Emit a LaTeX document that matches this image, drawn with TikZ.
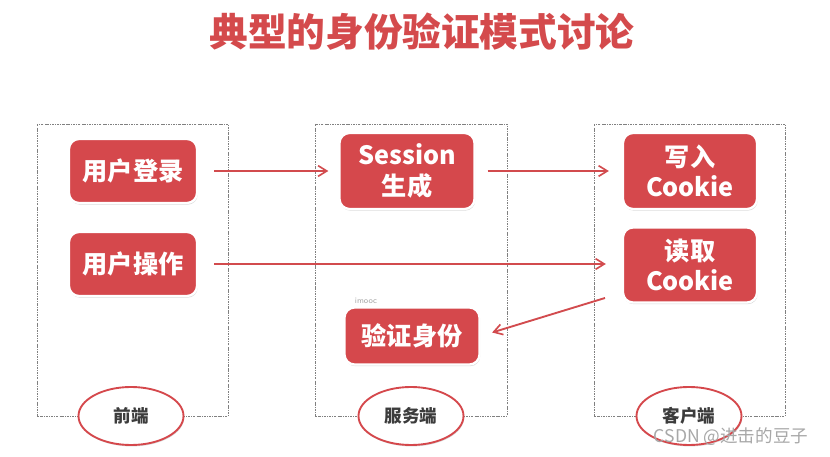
\documentclass[tikz,border=0pt]{standalone}
\usepackage{fontspec}
\usepackage{xcolor}
\usetikzlibrary{arrows.meta,shapes.geometric,shadows}
\newfontfamily\cjk{Noto Sans CJK SC}
\definecolor{Brick}{HTML}{D5484C}
\definecolor{TitleRed}{HTML}{D44A4C}
\definecolor{Wire}{HTML}{D24B4E}
\definecolor{Frame}{HTML}{808080}
\definecolor{Label}{HTML}{3C3C3C}
\definecolor{Mark}{HTML}{A8A8A8}

\begin{document}
\begin{tikzpicture}[x=0.03cm,y=-0.03cm,
  redbox/.style={rectangle, rounded corners=0.3cm, fill=Brick, draw=white, line width=2pt, inner sep=0pt,
    text=white, font=\cjk\bfseries\fontsize{21.5}{26}\selectfont, align=center,
    drop shadow={opacity=0.3, shadow xshift=0.6pt, shadow yshift=-1.4pt}},
  side/.style={ellipse, fill=white, draw=Brick, line width=1.6pt, minimum width=3.15cm, minimum height=1.74cm,
    inner sep=0pt, text=Label, font=\cjk\bfseries\fontsize{15}{17}\selectfont,
    drop shadow={opacity=0.3, shadow xshift=0.6pt, shadow yshift=-1.2pt}},
  lane/.style={draw=Frame, line width=0.5pt, dash pattern=on 2pt off 1pt on 0.5pt off 1pt},
  link/.style={Wire, line width=1.6pt, -{Straight Barb[length=2.6mm,width=3.2mm,line width=1.4pt]}}]
\fill[white] (0,0) rectangle (830,457);
\node[text=TitleRed, font=\cjk\bfseries\fontsize{33}{38}\selectfont] (title) at (422,32){典型的身份验证模式讨论};
% three lanes
\draw[lane] (37,124) rectangle (228,416);
\draw[lane] (315,124) rectangle (507,416);
\draw[lane] (594,124) rectangle (785,416);
% boxes
\node[redbox, minimum width=3.84cm, minimum height=1.92cm] (login) at (133,171){用户登录};
\node[redbox, minimum width=3.84cm, minimum height=1.92cm] (act) at (133,264){用户操作};
\node[redbox, minimum width=4.05cm, minimum height=2.28cm] (sess) at (407,171){Session\\生成};
\node[redbox, minimum width=4.05cm, minimum height=1.71cm] (verify) at (412,336){验证身份};
\node[redbox, minimum width=4.02cm, minimum height=2.28cm] (write) at (690,171){写入\\Cookie};
\node[redbox, minimum width=4.02cm, minimum height=2.25cm] (read) at (690,265){读取\\Cookie};
\node[text=Mark, font=\sffamily\fontsize{7}{8}\selectfont] (tag) at (366,301){imooc};
% lane labels
\node[side] (front) at (131,416){前端};
\node[side] (server) at (411,416){服务端};
\node[side] (client) at (689,416){客户端};
% connectors
\draw[link, shorten <=0.48cm, shorten >=0.3cm] (login) -- (sess);
\draw[link, shorten <=0.36cm, shorten >=0.39cm] (sess) -- (write);
\draw[link, shorten <=0.48cm, shorten >=0.48cm] (act.east) -- (read.west |- act.east);
\coordinate (readfoot) at (605,298);
\draw[link, shorten >=0.36cm] (readfoot) -- (verify.east);
\node[text=Mark, font=\cjk\fontsize{15}{17}\selectfont] (mark) at (731,437){CSDN @进击的豆子};
\end{tikzpicture}
\end{document}
